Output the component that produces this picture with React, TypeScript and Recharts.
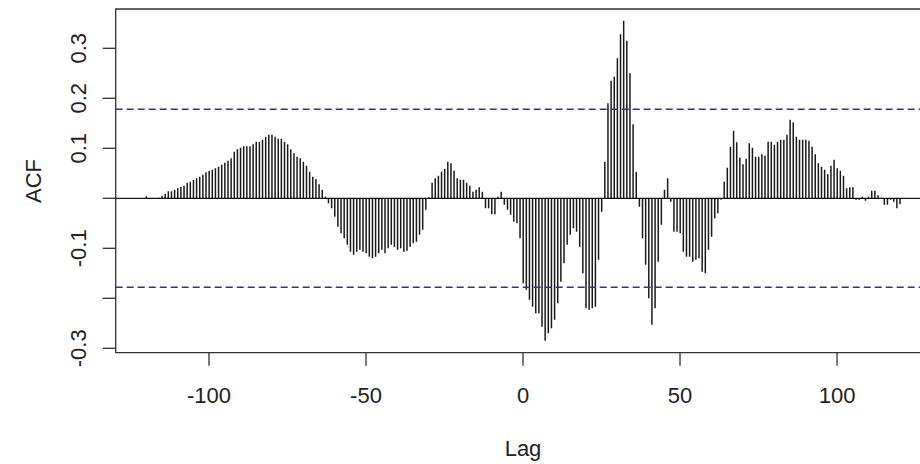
import { ComposedChart, Bar, XAxis, YAxis, ReferenceLine, ReferenceArea } from 'recharts'

// cross-correlation values, one per lag, starting at lag -120
const firstLag = -120
const acfValues = [
  0.004, 0, 0, 0, 0.001, 0.005, 0.009, 0.014, 0.014, 0.017, // -120..-111
  0.02, 0.023, 0.025, 0.031, 0.033, 0.037, 0.04, 0.043, 0.047, 0.052, // -110..-101
  0.055, 0.057, 0.06, 0.063, 0.067, 0.071, 0.075, 0.08, 0.093, 0.098, // -100..-91
  0.101, 0.104, 0.104, 0.104, 0.108, 0.113, 0.113, 0.117, 0.123, 0.127, // -90..-81
  0.127, 0.123, 0.119, 0.119, 0.113, 0.108, 0.098, 0.09, 0.083, 0.08, // -80..-71
  0.073, 0.065, 0.053, 0.043, 0.038, 0.028, 0.017, 0.003, -0.01, -0.02, // -70..-61
  -0.037, -0.057, -0.07, -0.08, -0.093, -0.107, -0.113, -0.107, -0.103, -0.107, // -60..-51
  -0.11, -0.117, -0.12, -0.117, -0.11, -0.103, -0.11, -0.1, -0.093, -0.097, // -50..-41
  -0.103, -0.1, -0.107, -0.105, -0.097, -0.09, -0.087, -0.073, -0.063, -0.023, // -40..-31
  0.002, 0.031, 0.04, 0.045, 0.053, 0.059, 0.073, 0.07, 0.055, 0.04, // -30..-21
  0.037, 0.037, 0.031, 0.025, 0.013, 0.017, 0.022, 0.013, -0.02, -0.02, // -20..-11
  -0.032, -0.032, 0.003, 0.013, -0.013, -0.023, -0.033, -0.047, -0.05, -0.08, // -10..-1
  -0.17, -0.183, -0.203, -0.217, -0.23, -0.23, -0.257, -0.285, -0.27, -0.26, // 0..9
  -0.243, -0.21, -0.167, -0.13, -0.093, -0.073, -0.06, -0.067, -0.097, -0.15, // 10..19
  -0.22, -0.223, -0.22, -0.217, -0.123, -0.027, 0.073, 0.19, 0.235, 0.243, // 20..29
  0.28, 0.328, 0.355, 0.315, 0.25, 0.148, 0.053, -0.017, -0.08, -0.133, // 30..39
  -0.2, -0.253, -0.22, -0.127, -0.053, 0.017, 0.04, -0.007, -0.067, -0.067, // 40..49
  -0.07, -0.107, -0.117, -0.117, -0.127, -0.123, -0.12, -0.147, -0.15, -0.103, // 50..59
  -0.077, -0.04, -0.03, -0.003, 0.033, 0.061, 0.103, 0.135, 0.112, 0.081, // 60..69
  0.068, 0.079, 0.11, 0.101, 0.083, 0.083, 0.088, 0.085, 0.113, 0.113, // 70..79
  0.107, 0.113, 0.117, 0.117, 0.127, 0.157, 0.152, 0.123, 0.117, 0.117, // 80..89
  0.117, 0.115, 0.103, 0.088, 0.07, 0.063, 0.057, 0.048, 0.065, 0.077, // 90..99
  0.06, 0.055, 0.045, 0.02, 0.022, 0.022, -0.003, -0.003, 0.003, -0.005, // 100..109
  0.003, 0.015, 0.015, 0.006, 0.001, -0.013, -0.013, -0.003, -0.007, -0.02, // 110..119
  -0.012, // 120
]

const xTicks = [-100, -50, 0, 50, 100]
const yTicks = [-0.3, -0.2, -0.1, 0, 0.1, 0.2, 0.3]
const yTickLabels = ['0.3', '0.2', '0.1', '-0.1', '-0.3'] // R drops the ones that would overlap
const ciBound = 0.178

const data = acfValues.map((v, i) => ({ lag: firstLag + i, acf: v }))

const font = "'Liberation Sans', Arial, sans-serif"

// tick props: x/y already sit past the tick line (tickSize 13 + tickMargin 2)
function XTick({ x, y, payload }: any) {
  return (
    <text x={x} y={y + 35} textAnchor="middle" fontFamily={font} fontSize={22} fill="#222">
      {payload.value}
    </text>
  )
}

function YTick({ x, y, payload }: any) {
  const label = Number(payload.value).toFixed(1)
  if (!yTickLabels.includes(label)) return null
  const bx = x - 15
  return (
    <text x={bx} y={y} transform={`rotate(-90, ${bx}, ${y})`} textAnchor="middle"
      fontFamily={font} fontSize={22} fill="#222">
      {label}
    </text>
  )
}

export default function App() {
  return (
    <div style={{ position: 'absolute', left: 0, top: 0, width: 920, height: 464, overflow: 'hidden', background: '#fff' }}>
      <ComposedChart width={940} height={464} data={data}
        margin={{ top: 9, right: 9.7, bottom: 81.3, left: 55.7 }}>
        <XAxis type="number" dataKey="lag" domain={[-129.7, 129.7]} ticks={xTicks} allowDataOverflow
          height={30} axisLine={false} tickSize={13} tickMargin={2}
          tickLine={{ stroke: '#333', strokeWidth: 1.3 }} tick={<XTick />} />
        <YAxis type="number" domain={[-0.3088, 0.3786]} ticks={yTicks} allowDataOverflow
          width={60} axisLine={false} tickSize={13} tickMargin={2}
          tickLine={{ stroke: '#333', strokeWidth: 1.3 }} tick={<YTick />} />
        <ReferenceArea x1={-129.7} x2={129.7} y1={-0.3088} y2={0.3786} fill="none"
          stroke="#333" strokeWidth={1.3} />
        <ReferenceLine y={ciBound} stroke="#33338a" strokeWidth={1.5} strokeDasharray="7 4" />
        <ReferenceLine y={-ciBound} stroke="#33338a" strokeWidth={1.5} strokeDasharray="7 4" />
        <ReferenceLine y={0} stroke="#111" strokeWidth={1.2} />
        <Bar dataKey="acf" barSize={1.5} fill="#1a1a1a" isAnimationActive={false} />
      </ComposedChart>
      <svg width={920} height={464} style={{ position: 'absolute', left: 0, top: 0, pointerEvents: 'none' }}>
        <text x={523} y={456} textAnchor="middle" fontFamily={font} fontSize={22} fill="#222">Lag</text>
        <text x={41} y={181} transform="rotate(-90, 41, 181)" textAnchor="middle" fontFamily={font} fontSize={22} fill="#222">ACF</text>
      </svg>
    </div>
  )
}
